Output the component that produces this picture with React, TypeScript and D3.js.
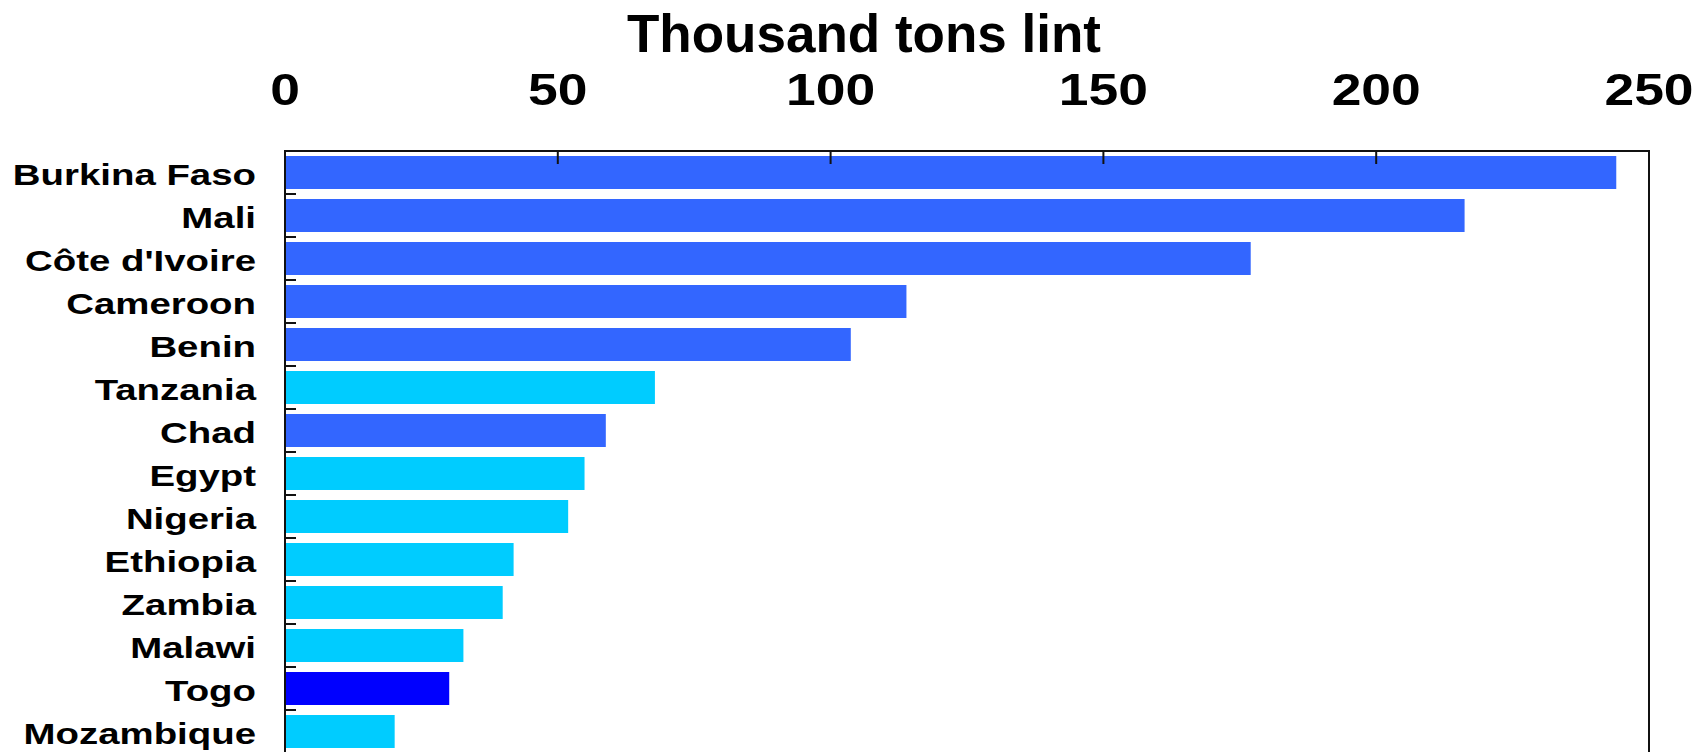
import React from "react";
import * as d3 from "d3";

const countries = [
  "Burkina Faso",
  "Mali",
  "Côte d'Ivoire",
  "Cameroon",
  "Benin",
  "Tanzania",
  "Chad",
  "Egypt",
  "Nigeria",
  "Ethiopia",
  "Zambia",
  "Malawi",
  "Togo",
  "Mozambique",
];
const values = [244, 216.2, 177, 113.9, 103.7, 67.8, 58.8, 54.9, 51.9, 41.9, 39.9, 32.7, 30.1, 20.1];
const groups = ["A", "A", "A", "A", "A", "B", "A", "B", "B", "B", "B", "B", "C", "B"];
const xTicks = [0, 50, 100, 150, 200, 250];
const title = "Thousand tons lint";

const colorMap: Record<string, string> = { A: "#3366FF", B: "#00CCFF", C: "#0000FF" };

export default function App() {
  const W = 1706;
  const H = 752;
  const left = 285;
  const right = 1649;
  const top = 151;
  const bottom = 753;
  const x = d3.scaleLinear().domain([0, 250]).range([left, right]);
  const y = d3
    .scaleBand<string>()
    .domain(countries)
    .range([top, bottom])
    .paddingInner(0.233)
    .paddingOuter(0.1165);
  const step = y.step();
  const font = "'Liberation Sans', Arial, Helvetica, sans-serif";

  return (
    <svg
      width={W}
      height={H}
      style={{ position: "absolute", left: 0, top: 0, background: "#fff" }}
    >
      <rect x={0} y={0} width={W} height={H} fill="#fff" />
      {/* title */}
      <text
        x={864}
        y={52}
        textAnchor="middle"
        fontFamily={font}
        fontWeight="bold"
        fontSize={53}
        fill="#000"
      >
        {title}
      </text>
      {/* x tick labels */}
      {xTicks.map((t) => (
        <text
          key={"xl" + t}
          transform={`translate(${x(t)},105) scale(1.2,1)`}
          textAnchor="middle"
          fontFamily={font}
          fontWeight="bold"
          fontSize={44.5}
          fill="#000"
        >
          {t}
        </text>
      ))}
      {/* bars */}
      {countries.map((c, i) => (
        <rect
          key={"b" + c}
          x={x(0)}
          y={y(c)!}
          width={x(values[i]) - x(0)}
          height={y.bandwidth()}
          fill={colorMap[groups[i]]}
        />
      ))}
      {/* category labels */}
      {countries.map((c) => (
        <text
          key={"l" + c}
          transform={`translate(256,${y(c)! + y.bandwidth() / 2 + 12}) scale(1.28,1)`}
          textAnchor="end"
          fontFamily={font}
          fontWeight="bold"
          fontSize={30}
          fill="#000"
        >
          {c}
        </text>
      ))}
      {/* left ticks at band boundaries */}
      {countries.slice(1).map((c) => {
        const yy = y(c)! - (step - y.bandwidth()) / 2;
        return (
          <line key={"yt" + c} x1={left} x2={left + 11} y1={yy} y2={yy} stroke="#111" strokeWidth={2} />
        );
      })}
      {/* top ticks */}
      {xTicks.slice(1, -1).map((t) => (
        <line key={"xt" + t} x1={x(t)} x2={x(t)} y1={top} y2={top + 13} stroke="#111" strokeWidth={2} />
      ))}
      {/* frame */}
      <rect
        x={left}
        y={top}
        width={right - left}
        height={H + 20 - top}
        fill="none"
        stroke="#111"
        strokeWidth={2}
      />
    </svg>
  );
}
